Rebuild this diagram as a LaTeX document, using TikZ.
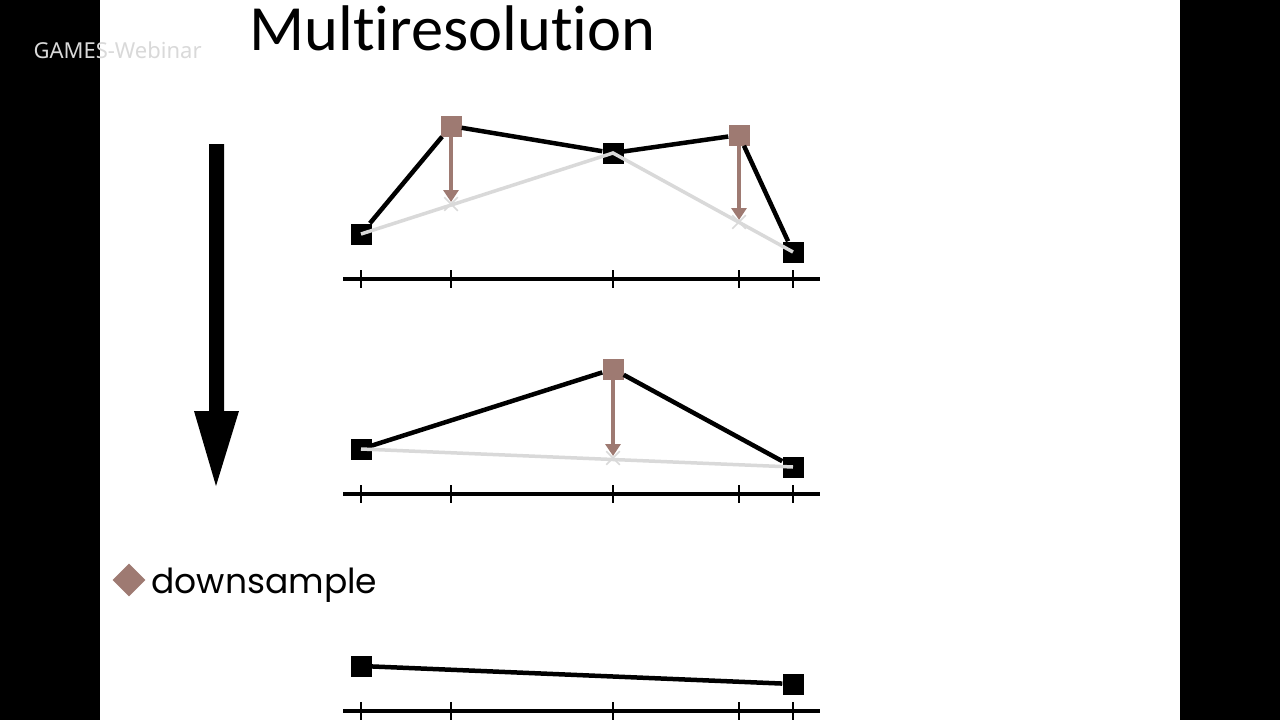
\documentclass[tikz,border=0pt]{standalone}
\usepackage{fontspec}
\setmainfont{Carlito}[Ligatures=NoCommon]
\newfontfamily\bulletfont{Poppins}
\newfontfamily\markfont{Noto Sans}
\usetikzlibrary{arrows.meta,shapes.misc,shapes.geometric,positioning}
\definecolor{sampbrown}{RGB}{158,122,114}
\definecolor{ghost}{RGB}{217,217,217}

\begin{document}
\begin{tikzpicture}[
    x=1pt,y=-1pt,
    sample/.style={%
      rectangle,
      fill=black,
      minimum size=21pt,
      inner sep=0pt,
    },
    moved/.style={%
      sample,
      fill=sampbrown,
    },
    cross/.style={%
      cross out,
      draw=ghost,
      line width=1.5pt,
      minimum size=12pt,
      inner sep=0pt,
    },
    curve/.style={line width=4.5pt},
    coarse/.style={draw=ghost, line width=3.5pt},
    detail/.style={%
      draw=sampbrown,
      line width=4pt,
      shorten >=2pt,
      -{Triangle[length=12pt,width=15pt]},
    },
  ]

    \useasboundingbox (0,0) rectangle (1280,720);
    \fill[white] (0,0) rectangle (1280,720);
    \fill[black] (0,0) rectangle (100,720);
    \fill[black] (1180,0) rectangle (1280,720);

    \node [anchor=base west, font=\fontsize{64.5}{64.5}\selectfont] (title) at (246,50) {Multiresolution};
    \node [anchor=base west, text=ghost, font=\markfont\fontsize{22}{22}\selectfont] (wm) at (30,58) {GAMES-Webinar};

    % level arrow
    \fill[black] (209,144) -- (224,144) -- (224,411) -- (239,411)
      -- (216,486) -- (194,411) -- (209,411) -- cycle;

    \node [diamond, fill=sampbrown, minimum size=33pt, inner sep=0pt] (bullet) at (129,580) {};
    \node [anchor=base west, font=\bulletfont\fontsize{34.5}{34.5}\selectfont] (label) at (148,593) {downsample};

    % axes
    \foreach \y in {279,494,711} {
      \draw[line width=4.5pt] (343,\y) -- (820,\y);
      \foreach \x in {361,451,613,739,793}
        \draw[line width=2pt] (\x,\y-9) -- (\x,\y+9);
    }

    % fine level
    \node [sample] (a0) at (361,234) {};
    \node [moved] (a1) at (451,126) {};
    \node [sample] (a2) at (613,153) {};
    \node [moved] (a3) at (739,135) {};
    \node [sample] (a4) at (793,252) {};
    \node [cross] (ax1) at (451,204) {};
    \node [cross] (ax3) at (739,222) {};

    \draw [curve] (a0) -- (a1);
    \draw [curve] (a1) -- (a2);
    \draw [curve] (a2) -- (a3);
    \draw [curve] (a3) -- (a4);
    \draw [coarse] (a0.center) -- (a2.center) -- (a4.center);
    \draw [detail] (a1) -- (ax1.center);
    \draw [detail] (a3) -- (ax3.center);

    % middle level
    \node [sample] (b0) at (361,449) {};
    \node [moved] (b2) at (613,369) {};
    \node [sample] (b4) at (793,467) {};
    \node [cross] (bx2) at (613,458) {};

    \draw [curve] (b0) -- (b2);
    \draw [curve] (b2) -- (b4);
    \draw [coarse] (b0.center) -- (b4.center);
    \draw [detail] (b2) -- (bx2.center);

    % coarse level
    \node [sample] (c0) at (361,666) {};
    \node [sample] (c4) at (793,684) {};

    \draw [curve] (c0) -- (c4);
\end{tikzpicture}
\end{document}
